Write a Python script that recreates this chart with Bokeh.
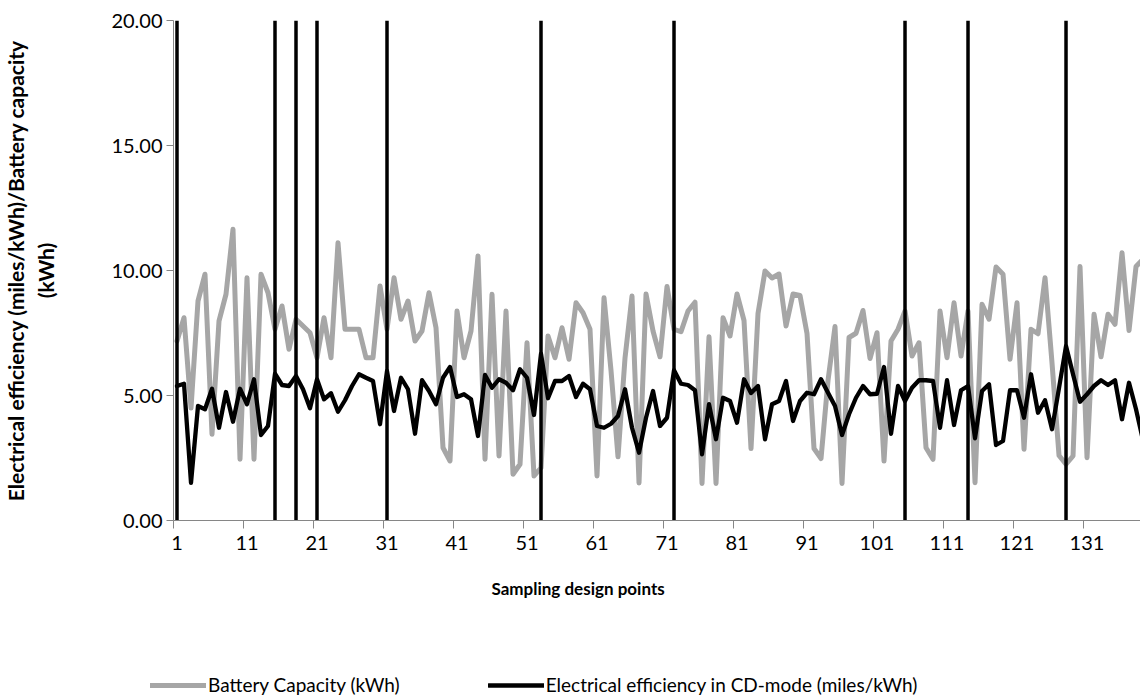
from bokeh.plotting import figure
from bokeh.layouts import column
from bokeh.models import (Range1d, FixedTicker, NumeralTickFormatter, Title,
                          Legend, LegendItem, ColumnDataSource)
from bokeh.embed import file_html
from bokeh.resources import INLINE

# ---- data -----------------------------------------------------------------
design_points = list(range(1, 140))

battery_capacity = [
    7.18, 8.11, 4.50, 8.78, 9.85, 3.45, 7.98, 9.05, 11.65, 2.45,
    9.71, 2.45, 9.85, 9.11, 7.65, 8.58, 6.85, 8.05, 7.78, 7.51,
    6.51, 8.11, 6.51, 11.11, 7.65, 7.65, 7.65, 6.51, 6.51, 9.38,
    7.65, 9.71, 8.05, 8.78, 7.18, 7.58, 9.11, 7.71, 2.91, 2.38,
    8.38, 6.51, 7.58, 10.58, 2.45, 9.05, 2.58, 8.38, 1.85, 2.25,
    7.11, 1.78, 2.11, 7.38, 6.51, 7.71, 6.45, 8.71, 8.31, 7.65,
    1.78, 8.91, 6.00, 2.55, 6.50, 8.98, 1.50, 9.06, 7.58, 6.55,
    9.36, 7.65, 7.55, 8.38, 8.73, 1.48, 7.35, 1.48, 8.11, 7.38,
    9.06, 8.00, 2.88, 8.28, 9.98, 9.70, 9.86, 7.78, 9.06, 9.00,
    7.48, 2.88, 2.48, 5.60, 7.76, 1.48, 7.32, 7.49, 8.40, 6.48,
    7.51, 2.38, 7.18, 7.65, 8.38, 6.58, 7.11, 2.91, 2.45, 8.38,
    6.51, 8.71, 6.58, 8.38, 1.51, 8.65, 8.05, 10.14, 9.85, 6.45,
    8.71, 2.85, 7.65, 7.47, 9.71, 6.30, 2.60, 2.25, 2.58, 10.16,
    2.51, 8.25, 6.55, 8.25, 7.85, 10.71, 7.60, 10.16, 10.45,
]

cd_efficiency = [
    5.38, 5.47, 1.51, 4.58, 4.45, 5.27, 3.71, 5.14, 3.95, 5.27,
    4.65, 5.65, 3.42, 3.78, 5.87, 5.42, 5.38, 5.78, 5.25, 4.49,
    5.65, 4.85, 5.09, 4.35, 4.81, 5.38, 5.85, 5.71, 5.58, 3.85,
    5.98, 4.38, 5.71, 5.25, 3.47, 5.61, 5.18, 4.65, 5.71, 6.14,
    4.94, 5.05, 4.85, 3.38, 5.82, 5.31, 5.65, 5.51, 5.21, 6.05,
    5.71, 4.22, 6.67, 4.89, 5.58, 5.58, 5.78, 4.94, 5.47, 5.25,
    3.78, 3.71, 3.87, 4.18, 5.25, 3.71, 2.71, 4.11, 5.18, 3.78,
    4.11, 6.01, 5.47, 5.42, 5.21, 2.65, 4.65, 3.25, 4.91, 4.78,
    3.91, 5.65, 5.10, 5.38, 3.25, 4.65, 4.78, 5.58, 3.98, 4.78,
    5.11, 5.05, 5.65, 5.11, 4.58, 3.42, 4.25, 4.91, 5.38, 5.05,
    5.07, 6.14, 3.47, 5.38, 4.78, 5.31, 5.61, 5.61, 5.58, 3.71,
    5.61, 3.82, 5.21, 5.38, 3.29, 5.18, 5.45, 3.02, 3.18, 5.21,
    5.21, 4.11, 5.85, 4.31, 4.81, 3.65, 5.30, 6.98, 5.85, 4.75,
    5.05, 5.38, 5.61, 5.42, 5.61, 4.05, 5.51, 4.45, 3.20,
]

# design points marked with a full-height rule
flagged_points = [1, 15, 18, 21, 31, 53, 72, 105, 114, 128]

x_tick_labels = list(range(1, 140, 10))          # 1, 11, ..., 131
y_ticks = [0, 5, 10, 15, 20]
y_min, y_max = 0, 20

# ---- styles -----------------------------------------------------------------
FONT = "Lato"
AXIS_GRAY = "#868686"
SERIES_GRAY = "#a6a6a6"
cap_style = dict(line_color=SERIES_GRAY, line_width=5, line_join="round", line_cap="round")
eff_style = dict(line_color="black", line_width=4.3, line_join="round", line_cap="round")

# ---- main chart ---------------------------------------------------------------
p = figure(width=1140, height=650,
           x_range=Range1d(0.5, 138.64), y_range=Range1d(y_min, y_max),
           output_backend="svg", toolbar_location=None,
           min_border_left=173, min_border_right=0,
           min_border_top=20, min_border_bottom=130)
p.outline_line_color = None
p.grid.visible = False
p.border_fill_color = "white"
p.frame_align = False

src = ColumnDataSource(dict(x=design_points, cap=battery_capacity, eff=cd_efficiency))

p.line("x", "cap", source=src, **cap_style)
p.segment(x0=flagged_points, y0=[y_min] * len(flagged_points),
          x1=flagged_points, y1=[y_max] * len(flagged_points),
          line_color="black", line_width=3.5)
p.line("x", "eff", source=src, **eff_style)

# x axis: labels on the design points, tick marks between them
xa = p.xaxis[0]
xa.ticker = FixedTicker(ticks=x_tick_labels,
                        minor_ticks=[t - 0.5 for t in x_tick_labels])
xa.major_tick_line_color = None
xa.major_tick_out = 0
xa.major_tick_in = 0
xa.minor_tick_line_color = AXIS_GRAY
xa.minor_tick_out = 8
xa.minor_tick_in = 0
xa.axis_line_color = AXIS_GRAY
xa.major_label_standoff = 7
xa.major_label_text_font = FONT
xa.major_label_text_font_size = "20px"
xa.major_label_text_color = "black"

# y axis
ya = p.yaxis[0]
ya.ticker = FixedTicker(ticks=y_ticks)
ya.formatter = NumeralTickFormatter(format="0.00")
ya.major_tick_line_color = AXIS_GRAY
ya.major_tick_out = 7
ya.major_tick_in = 0
ya.minor_tick_line_color = None
ya.axis_line_color = AXIS_GRAY
ya.major_label_standoff = 4
ya.major_label_text_font = FONT
ya.major_label_text_font_size = "20px"
ya.major_label_text_color = "black"
ya.axis_label = "Electrical efficiency (miles/kWh)/Battery capacity\n(kWh)"
ya.axis_label_text_font = FONT
ya.axis_label_text_font_style = "bold"
ya.axis_label_text_font_size = "21px"
ya.axis_label_text_color = "black"
ya.axis_label_standoff = 50

# x axis title
p.add_layout(Title(text="Sampling design points", align="left", offset=318,
                   text_font=FONT, text_font_style="bold",
                   text_font_size="17px", text_color="black", standoff=46),
             "below")

# ---- legend strip -------------------------------------------------------------
leg = figure(width=1140, height=50, x_range=Range1d(0, 1), y_range=Range1d(0, 1),
             output_backend="svg", toolbar_location=None, min_border=0,
             x_axis_location=None, y_axis_location=None)
leg.outline_line_color = None
leg.grid.visible = False
leg.frame_align = False
nan = float("nan")
cap_key = leg.line(x=[nan], y=[nan], **cap_style)
eff_key = leg.line(x=[nan], y=[nan], **eff_style)
leg.add_layout(Legend(
    items=[LegendItem(label="Battery Capacity (kWh)", renderers=[cap_key]),
           LegendItem(label="Electrical efficiency in CD-mode (miles/kWh)",
                      renderers=[eff_key])],
    orientation="horizontal", location=(150, 4),
    glyph_width=56, glyph_height=20, label_standoff=2, spacing=88,
    padding=0, margin=0, border_line_color=None, background_fill_alpha=0,
    label_text_font=FONT, label_text_font_size="19px", label_text_color="black"))

open("out.html", "w").write(file_html(column(p, leg, spacing=0), INLINE))
